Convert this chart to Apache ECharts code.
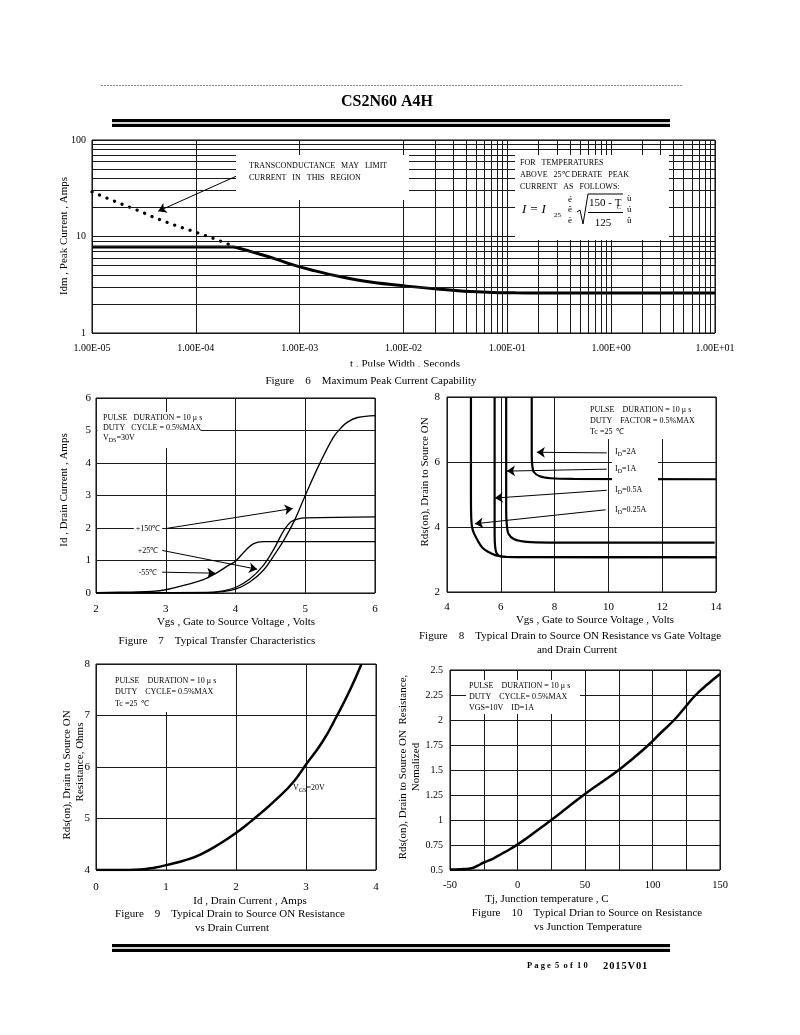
<!DOCTYPE html>
<html><head><meta charset="utf-8">
<script src="https://cdn.jsdelivr.net/npm/echarts@6/dist/echarts.min.js"></script>
<style>html,body{margin:0;padding:0;background:#fff}#c{width:800px;height:1035px}</style>
</head><body><div id="c"></div>
<script>
// ---------- Figure 6 : Maximum Peak Current Capability ----------
const f6XTickLabels = ['1.00E-05','1.00E-04','1.00E-03','1.00E-02','1.00E-01','1.00E+00','1.00E+01'];
const f6SolidT = [1e-5, 2.3e-4, 2.6e-4, 3e-4, 3.6e-4, 4.5e-4, 6e-4, 8.8e-4, 1.3e-3, 2.5e-3, 5e-3, 1.07e-2, 1.8e-2, 2.8e-2, 4.5e-2, 7.3e-2, 0.12, 0.2, 10];
const f6SolidI = [7.8, 7.8, 7.55, 7.25, 6.85, 6.4, 5.8, 5.05, 4.5, 3.82, 3.35, 3.06, 2.9, 2.79, 2.69, 2.63, 2.61, 2.6, 2.6];
const f6DotT = [1e-5, 1.2e-5, 1.6e-5, 2.2e-5, 3e-5, 4e-5, 6e-5, 9.7e-5, 1.5e-4, 2.2e-4];
const f6DotI = [29, 26.7, 23.5, 20.5, 18, 15.7, 13.3, 11.2, 9.5, 8.1];
const f6ArrowFrom = [2.55e-4, 43];
const f6ArrowTo = [4.34e-5, 18.3];

// ---------- Figure 7 : Typical Transfer Characteristics ----------
const f7VgsA = [2, 2.5, 2.8, 3.0, 3.3, 3.54, 3.73, 3.9, 4.0, 4.14, 4.26, 4.4, 4.6, 6];
const f7IdA  = [0.01, 0.03, 0.05, 0.1, 0.26, 0.41, 0.62, 0.85, 0.98, 1.3, 1.52, 1.58, 1.58, 1.58];
const f7VgsB = [2, 3.6, 3.8, 4.0, 4.2, 4.4, 4.55, 4.7, 4.8, 4.9, 5.0, 6];
const f7IdB  = [0.01, 0.02, 0.06, 0.17, 0.42, 0.85, 1.35, 1.95, 2.2, 2.28, 2.31, 2.34];
const f7VgsC = [2, 3.6, 3.8, 4.0, 4.2, 4.4, 4.55, 4.7, 4.85, 5.0, 5.2, 5.4, 5.5, 5.6, 5.75, 6];
const f7IdC  = [0.01, 0.01, 0.04, 0.12, 0.33, 0.7, 1.15, 1.65, 2.25, 3.0, 3.95, 4.78, 5.05, 5.25, 5.4, 5.46];
const f7ArrowFrom = [[3.02, 1.99], [2.95, 1.31], [2.95, 0.64]];
const f7ArrowTo   = [[4.82, 2.6], [4.31, 0.73], [3.71, 0.61]];

// ---------- Figure 8 : Rds(on) vs Vgs ----------
const f8Vgs025 = [4.89, 4.89, 4.9, 4.93, 5.01, 5.3, 5.67, 5.98, 6.5, 14];
const f8R025   = [8, 5, 4.3, 4.0, 3.79, 3.38, 3.18, 3.1, 3.07, 3.07];
const f8Vgs05  = [5.77, 5.77, 5.78, 5.83, 5.95, 6.2, 14];
const f8R05    = [8, 4, 3.5, 3.22, 3.11, 3.08, 3.07];
const f8Vgs1   = [6.2, 6.2, 6.22, 6.28, 6.5, 6.96, 7.8, 13.95];
const f8R1     = [8, 4.5, 4.1, 3.8, 3.62, 3.54, 3.52, 3.52];
const f8Vgs2   = [7.15, 7.15, 7.17, 7.22, 7.45, 7.85, 8.7, 14];
const f8R2     = [8, 6.2, 5.9, 5.7, 5.56, 5.5, 5.48, 5.47];
const f8ArrowFrom = [[9.94, 6.28], [9.94, 5.78], [9.94, 5.13], [9.9, 4.53]];
const f8ArrowTo   = [[7.34, 6.3], [6.23, 5.72], [5.78, 4.89], [5.04, 4.1]];

// ---------- Figure 9 : Rds(on) vs Id ----------
const f9Id = [0, 0.3, 0.64, 0.85, 1.02, 1.25, 1.49, 1.78, 1.99, 2.2, 2.35, 2.59, 2.82, 3.0, 3.24, 3.44, 3.62, 3.79];
const f9R  = [4.0, 4.0, 4.01, 4.05, 4.1, 4.18, 4.3, 4.52, 4.71, 4.93, 5.1, 5.39, 5.71, 6.05, 6.5, 6.99, 7.47, 7.99];

// ---------- Figure 10 : Rds(on) vs Tj ----------
const f10Tj = [-50, -42, -35, -30, -25, -18, -12, -6, 0, 6, 12, 18, 25, 37, 49, 62, 75, 86, 97, 106, 116, 124, 132, 141, 150];
const f10R  = [0.505, 0.508, 0.515, 0.54, 0.575, 0.615, 0.66, 0.705, 0.755, 0.81, 0.87, 0.93, 1.0, 1.125, 1.25, 1.375, 1.5, 1.62, 1.75, 1.87, 2.0, 2.125, 2.25, 2.36, 2.46];

const FONT = 'Liberation Serif';
const zip = (a, b) => a.map((v, i) => [v, b[i]]);
const GRID_C = '#1a1a1a';

function valAxis(gi, min, max, interval, margin, fs, extra) {
  return Object.assign({
    type: 'value', gridIndex: gi, min, max, interval,
    axisLine: {show: false}, axisTick: {show: false},
    splitLine: {show: true, lineStyle: {color: GRID_C, width: 1}},
    axisLabel: {color: '#000', fontFamily: FONT, fontSize: fs, margin, hideOverlap: false}
  }, extra || {});
}
function curve(xi, data, width, extra) {
  return Object.assign({
    type: 'line', xAxisIndex: xi, yAxisIndex: xi, data, symbol: 'none', z: 3, silent: true,
    lineStyle: {color: '#000', width}, smooth: 0.4
  }, extra || {});
}
function arrows(xi, from, to) {
  return {
    type: 'line', xAxisIndex: xi, yAxisIndex: xi, data: [], z: 55, silent: true,
    markLine: {
      silent: true, animation: false, symbol: ['none', 'arrow'], symbolSize: 8,
      label: {show: false}, lineStyle: {color: '#000', width: 1, type: 'solid'},
      emphasis: {disabled: true},
      data: from.map((f, i) => [{coord: f}, {coord: to[i]}])
    }
  };
}

// minor log grid positions for figure 6
const f6MinorX = [], f6MinorY = [];
for (let d = -5; d < 1; d++) for (let k = 2; k <= 9; k++) f6MinorX.push(k * Math.pow(10, d));
for (let d = 0; d < 2; d++) for (let k = 2; k <= 9; k++) f6MinorY.push(k * Math.pow(10, d));

function T(x, y, text, o) {
  o = o || {};
  const fs = o.fs || 8;
  const st = {
    text, fill: '#000', fontSize: fs, fontFamily: FONT,
    fontWeight: o.bold ? 'bold' : 'normal', fontStyle: o.italic ? 'italic' : 'normal',
    align: o.align || 'left', verticalAlign: 'middle',
    textAlign: o.align || 'left', textVerticalAlign: 'middle'
  };
  if (o.sub) st.rich = {s: {fontSize: Math.round(fs * 0.7), fontFamily: FONT, verticalAlign: 'bottom', padding: [Math.round(fs * 0.5), 0, 0, 0]}};
  if (o.bg) { st.backgroundColor = o.bg; st.padding = [1, 2]; }
  return {type: 'text', x, y, rotation: o.rot || 0, z: o.z || 60, style: st, silent: true};
}
function R(x, y, w, h, z) { return {type: 'rect', shape: {x, y, width: w, height: h}, style: {fill: '#fff'}, z: z || 50, silent: true}; }
function L(x1, y1, x2, y2, w, c, dash, z) {
  return {type: 'line', shape: {x1, y1, x2, y2}, style: {stroke: c || '#000', lineWidth: w || 1, lineDash: dash || null}, z: z || 60, silent: true};
}
const ROT = Math.PI / 2;

const graphics = [
  // header
  L(101, 85.5, 682, 85.5, 1, '#888', [2, 1]),
  T(387, 102, 'CS2N60 A4H', {fs: 16, bold: true, align: 'center'}),
  L(112, 120.5, 670, 120.5, 3), L(112, 123, 670, 123, 1, '#aaa'), L(112, 125.5, 670, 125.5, 3),
  // footer
  L(112, 945.5, 670, 945.5, 3), L(112, 948, 670, 948, 1, '#aaa'), L(112, 950.5, 670, 950.5, 3),
  T(527, 966, 'P a g e  5  o f  1 0', {fs: 8.5, bold: true}),
  T(603, 966, '2\u200A0\u200A1\u200A5\u200AV\u200A0\u200A1', {fs: 10.5, bold: true}),

  // ---- figure 6 ----
  R(236, 155, 173, 45), R(515, 155, 154, 85),
  T(249, 166, 'TRANSCONDUCTANCE   MAY   LIMIT', {fs: 8}),
  T(249, 178, 'CURRENT   IN   THIS   REGION', {fs: 8}),
  T(520, 163, 'FOR   TEMPERATURES', {fs: 8}),
  T(520, 175, 'ABOVE   25\u2103 DERATE   PEAK', {fs: 8}),
  T(520, 187, 'CURRENT   AS   FOLLOWS:', {fs: 8}),
  T(522, 210, 'I = I', {fs: 13, italic: true}),
  T(554, 215, '25', {fs: 7}),
  T(568, 200, '\u00e9', {fs: 9}), T(568, 210, '\u00ea', {fs: 9}), T(568, 221, '\u00eb', {fs: 9}),
  {type: 'polyline', shape: {points: [[577, 212], [580, 210], [583, 224], [588, 194], [623, 194]]}, style: {stroke: '#000', lineWidth: 1, fill: null}, z: 60, silent: true},
  T(589, 203, '150 - T', {fs: 11}),
  T(617, 207, 'C', {fs: 6.5, italic: true}),
  L(588, 212.5, 623, 212.5, 1),
  T(603, 223, '125', {fs: 11, align: 'center'}),
  T(627, 199, '\u00f9', {fs: 9}), T(627, 210, '\u00fa', {fs: 9}), T(627, 221, '\u00fb', {fs: 9}),
  T(64, 236, 'Idm , Peak Current , Amps', {fs: 11, rot: ROT, align: 'center'}),
  T(405, 364, 't , Pulse Width , Seconds', {fs: 11, align: 'center'}),
  R(330, 366.5, 150, 7.5, 70),
  T(371, 381, 'Figure    6    Maximum Peak Current Capability', {fs: 11, align: 'center'}),

  // ---- figure 7 ----
  R(97.5, 412, 103, 36),
  T(103, 418, 'PULSE   DURATION = 10 \u03bc s', {fs: 8}),
  T(103, 428, 'DUTY   CYCLE = 0.5%MAX', {fs: 8}),
  T(103, 438, 'V{s|DS}=30V', {fs: 8, sub: true}),
  T(148, 529, '+150\u2103', {fs: 8, align: 'center', bg: '#fff'}),
  T(148, 551, '+25\u2103', {fs: 8, align: 'center', bg: '#fff'}),
  T(148, 573, '-55\u2103', {fs: 8, align: 'center', bg: '#fff'}),
  T(64, 490, 'Id , Drain Current , Amps', {fs: 11, rot: ROT, align: 'center'}),
  T(236, 622, 'Vgs , Gate to Source Voltage , Volts', {fs: 11, align: 'center'}),
  T(217, 641, 'Figure    7    Typical Transfer Characteristics', {fs: 11, align: 'center'}),

  // ---- figure 8 ----
  R(584, 398, 128, 41), R(612, 441, 46, 79),
  T(590, 410, 'PULSE    DURATION = 10 \u03bc s', {fs: 8}),
  T(590, 421, 'DUTY    FACTOR = 0.5%MAX', {fs: 8}),
  T(590, 432, 'Tc =25  \u2103', {fs: 8}),
  T(615, 452, 'I{s|D}=2A', {fs: 8, sub: true}),
  T(615, 469, 'I{s|D}=1A', {fs: 8, sub: true}),
  T(615, 490, 'I{s|D}=0.5A', {fs: 8, sub: true}),
  T(615, 510, 'I{s|D}=0.25A', {fs: 8, sub: true}),
  T(425, 482, 'Rds(on), Drain to Source ON', {fs: 11, rot: ROT, align: 'center'}),
  T(595, 620, 'Vgs , Gate to Source Voltage , Volts', {fs: 11, align: 'center'}),
  T(570, 636, 'Figure    8    Typical Drain to Source ON Resistance vs Gate Voltage', {fs: 11, align: 'center'}),
  T(577, 650, 'and Drain Current', {fs: 11, align: 'center'}),

  // ---- figure 9 ----
  R(97, 665, 127, 47),
  T(115, 681, 'PULSE    DURATION = 10 \u03bc s', {fs: 8}),
  T(115, 692, 'DUTY    CYCLE= 0.5%MAX', {fs: 8}),
  T(115, 704, 'Tc =25  \u2103', {fs: 8}),
  T(293, 788, 'V{s|GS}=20V', {fs: 8, sub: true}),
  T(67, 775, 'Rds(on), Drain to Source ON', {fs: 11, rot: ROT, align: 'center'}),
  T(80, 762, 'Resistance, Ohms', {fs: 11, rot: ROT, align: 'center'}),
  T(250, 901, 'Id , Drain Current , Amps', {fs: 11, align: 'center'}),
  T(230, 914, 'Figure    9    Typical Drain to Source ON Resistance', {fs: 11, align: 'center'}),
  T(232, 928, 'vs Drain Current', {fs: 11, align: 'center'}),

  // ---- figure 10 ----
  R(466, 680, 114, 34),
  T(469, 686, 'PULSE    DURATION = 10 \u03bc s', {fs: 8}),
  T(469, 697, 'DUTY    CYCLE= 0.5%MAX', {fs: 8}),
  T(469, 708, 'VGS=10V    ID=1A', {fs: 8}),
  T(403, 767, 'Rds(on), Drain to Source ON  Resistance,', {fs: 11, rot: ROT, align: 'center'}),
  T(416, 767, 'Nomalized', {fs: 11, rot: ROT, align: 'center'}),
  T(547, 899, 'Tj, Junction temperature , C', {fs: 11, align: 'center'}),
  T(587, 913, 'Figure    10    Typical Drian to Source on Resistance', {fs: 11, align: 'center'}),
  T(588, 927, 'vs Junction Temperature', {fs: 11, align: 'center'})
];

const gridBase = {show: true, borderColor: '#000', borderWidth: 1, backgroundColor: 'transparent', containLabel: false, outerBoundsMode: 'none'};
const option = {
  animation: false,
  backgroundColor: '#fff',
  textStyle: {fontFamily: FONT},
  grid: [
    {left: 92, top: 140, width: 623, height: 193},
    {left: 96, top: 398, width: 279, height: 195},
    {left: 447, top: 397, width: 269, height: 195},
    {left: 96, top: 664, width: 280, height: 206},
    {left: 450, top: 670, width: 270, height: 200}
  ].map(g => Object.assign({}, gridBase, g)),
  xAxis: [
    {type: 'log', gridIndex: 0, logBase: 10, min: 1e-5, max: 10, splitNumber: 6,
     axisLine: {show: false}, axisTick: {show: false},
     splitLine: {show: true, lineStyle: {color: GRID_C, width: 1}},
     axisLabel: {color: '#000', fontFamily: FONT, fontSize: 10, margin: 10, hideOverlap: false,
       formatter: v => f6XTickLabels[Math.round(Math.log10(v)) + 5]}},
    valAxis(1, 2, 6, 1, 11, 11),
    valAxis(2, 4, 14, 2, 10, 11),
    valAxis(3, 0, 4, 1, 12, 11),
    valAxis(4, -50, 150, 25, 10, 10.5, {axisLabel: {color: '#000', fontFamily: FONT, fontSize: 10.5, margin: 10, hideOverlap: false,
      formatter: v => (v % 50 === 0 ? String(v) : '')}})
  ],
  yAxis: [
    {type: 'log', gridIndex: 0, logBase: 10, min: 1, max: 100, splitNumber: 2,
     axisLine: {show: false}, axisTick: {show: false},
     splitLine: {show: true, lineStyle: {color: GRID_C, width: 1}},
     axisLabel: {color: '#000', fontFamily: FONT, fontSize: 10, margin: 6, hideOverlap: false}},
    valAxis(1, 0, 6, 1, 5, 11),
    valAxis(2, 2, 8, 2, 7, 11),
    valAxis(3, 4, 8, 1, 6, 11),
    valAxis(4, 0.5, 2.5, 0.25, 7, 10)
  ],
  series: [
    // fig 6 minor grid
    {type: 'line', xAxisIndex: 0, yAxisIndex: 0, data: [], z: 1, silent: true,
     markLine: {silent: true, animation: false, symbol: ['none', 'none'], label: {show: false},
       lineStyle: {color: GRID_C, width: 1, type: 'solid'}, emphasis: {disabled: true},
       data: f6MinorX.map(v => ({xAxis: v})).concat(f6MinorY.map(v => ({yAxis: v})))}},
    curve(0, zip(f6SolidT, f6SolidI), 3, {smooth: 0.4}),
    curve(0, zip(f6DotT, f6DotI), 3.2, {smooth: false, lineStyle: {color: '#000', width: 3.2, type: [0.1, 8], cap: 'round'}}),
    arrows(0, [f6ArrowFrom], [f6ArrowTo]),
    // fig 7
    curve(1, zip(f7VgsA, f7IdA), 1.3),
    curve(1, zip(f7VgsB, f7IdB), 1.3),
    curve(1, zip(f7VgsC, f7IdC), 1.3),
    arrows(1, f7ArrowFrom, f7ArrowTo),
    // fig 8
    curve(2, zip(f8Vgs025, f8R025), 2.2, {smooth: 0.25}),
    curve(2, zip(f8Vgs05, f8R05), 2.2, {smooth: 0.25}),
    curve(2, zip(f8Vgs1, f8R1), 2.2, {smooth: 0.25}),
    curve(2, zip(f8Vgs2, f8R2), 2.2, {smooth: 0.25}),
    arrows(2, f8ArrowFrom, f8ArrowTo),
    // fig 9
    curve(3, zip(f9Id, f9R), 2.5, {smooth: 0.5}),
    // fig 10
    curve(4, zip(f10Tj, f10R), 2.5, {smooth: 0.5})
  ],
  graphic: {elements: graphics}
};
const chart = echarts.init(document.getElementById('c'), null, {renderer: 'canvas', width: 800, height: 1035});
chart.setOption(option);
</script>
</body></html>
